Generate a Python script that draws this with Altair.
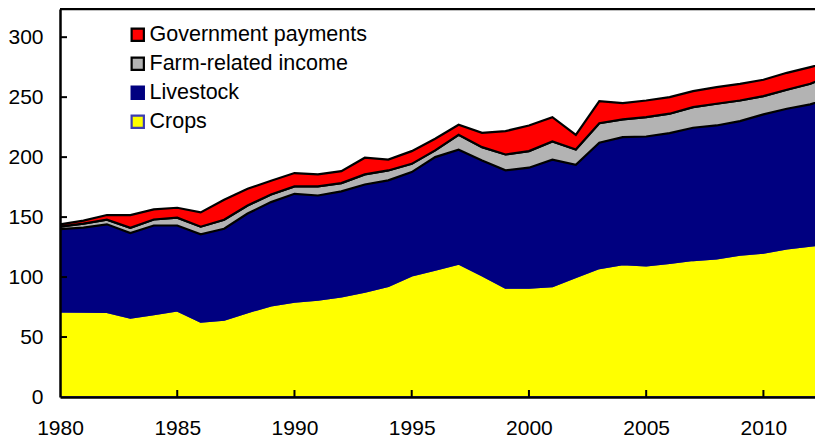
import altair as alt
import pandas as pd

years = list(range(1980, 2014))
crops = [71.4, 71.2, 71.0, 66.1, 69.0, 72.2, 62.8, 64.5, 70.8, 76.4,
         79.5, 81.2, 83.9, 87.8, 92.5, 101.4, 106.2, 111.2, 101.4, 91.2,
         91.2, 92.5, 100.0, 107.5, 110.8, 109.7, 111.7, 114.2, 115.6, 118.6,
         120.3, 123.9, 126.2, 128.0]
livestock = [68.6, 70.0, 73.0, 70.6, 74.0, 70.8, 72.8, 75.8, 82.2, 86.1,
             89.9, 86.8, 87.5, 89.4, 88.1, 86.1, 93.8, 95.0, 95.8, 97.8,
             100.0, 105.3, 93.6, 104.5, 105.9, 107.5, 108.3, 110.3, 110.8, 111.4,
             115.3, 116.4, 117.8, 122.0]
farm_related = [2.0, 3.3, 3.8, 4.3, 5.0, 6.5, 6.4, 7.5, 6.7, 6.4,
                6.2, 7.6, 6.9, 8.4, 8.3, 6.9, 5.6, 12.4, 11.1, 13.2,
                13.8, 15.2, 12.8, 16.3, 14.7, 16.1, 16.2, 17.2, 18.1, 17.2,
                15.3, 15.9, 17.2, 19.0]
government = [2.0, 2.5, 3.9, 10.7, 8.4, 8.3, 11.9, 16.7, 13.9, 11.4,
              11.1, 10.0, 10.0, 13.9, 9.1, 10.6, 9.7, 8.4, 12.0, 19.5,
              21.4, 20.3, 12.2, 18.4, 13.6, 13.9, 13.8, 13.3, 13.8, 13.9,
              13.6, 14.1, 13.8, 11.0]

series_names = ["Government payments", "Farm-related income", "Livestock", "Crops"]
fill_colors = ["#ff0000", "#b3b3b3", "#000080", "#ffff00"]
stroke_colors = ["#000000", "#000000", "#000080", "#3c3cb4"]
stroke_widths = [2.2, 2.2, 0, 1]
stack_rank = {"Crops": 1, "Livestock": 2, "Farm-related income": 3, "Government payments": 4}

y_ticks = [50, 100, 150, 200, 250, 300]
y_labels = [0, 50, 100, 150, 200, 250, 300]
x_ticks = [1985, 1990, 1995, 2000, 2005, 2010]
x_labels = [1980, 1985, 1990, 1995, 2000, 2005, 2010]

rows = []
for i, yr in enumerate(years):
    for name, vals in (("Crops", crops), ("Livestock", livestock),
                       ("Farm-related income", farm_related),
                       ("Government payments", government)):
        rows.append({"year": yr, "series": name, "value": vals[i], "rank": stack_rank[name]})
df = pd.DataFrame(rows)

FONT = "Liberation Sans"
W, H = 755, 388

xs = alt.Scale(domain=[1980, 2012.2], nice=False, zero=False)
ys = alt.Scale(domain=[0, 323.5], nice=False)

x_axis = alt.Axis(values=x_labels, format="d", title=None, ticks=False,
                  grid=False, labelFlush=False, labelPadding=20,
                  labelOverlap=False, zindex=1)
y_axis = alt.Axis(values=y_labels, title=None, ticks=False, grid=False,
                  labelPadding=17, labelOverlap=False, zindex=1)

legend = alt.Legend(
    title=None, orient="none", legendX=67, legendY=15, padding=0,
    symbolType="square", symbolSize=150, symbolStrokeWidth=2,
    labelFont=FONT, labelFontSize=21.5, labelColor="black", labelOffset=1,
    labelLimit=0, rowPadding=6,
)

area = alt.Chart(df).mark_area(clip=True, opacity=1).encode(
    x=alt.X("year:Q", scale=xs, axis=x_axis),
    y=alt.Y("value:Q", stack="zero", scale=ys, axis=y_axis),
    fill=alt.Fill("series:N", scale=alt.Scale(domain=series_names, range=fill_colors), legend=legend),
    stroke=alt.Stroke("series:N", scale=alt.Scale(domain=series_names, range=stroke_colors), legend=legend),
    strokeWidth=alt.StrokeWidth("series:N", scale=alt.Scale(domain=series_names, range=stroke_widths), legend=None),
    order=alt.Order("rank:Q"),
)

ytick = alt.Chart(pd.DataFrame({"v": y_ticks})).mark_rule(color="black", strokeWidth=2).encode(
    y=alt.Y("v:Q", scale=ys, axis=y_axis), x=alt.value(0), x2=alt.value(7))
xtick = alt.Chart(pd.DataFrame({"yr": x_ticks})).mark_rule(color="black", strokeWidth=2).encode(
    x=alt.X("yr:Q", scale=xs, axis=x_axis), y=alt.value(H), y2=alt.value(H - 7))
top = alt.Chart(pd.DataFrame({"a": [0]})).mark_rule(color="black", strokeWidth=2.5).encode(
    y=alt.value(0), x=alt.value(0), x2=alt.value(W))

chart = alt.layer(area, ytick, xtick, top).properties(
    width=W, height=H,
    autosize=alt.AutoSizeParams(type="none"),
    padding={"left": 52, "top": 1, "right": 0, "bottom": 44},
).configure_view(stroke=None).configure_axis(
    labelFont=FONT, labelFontSize=21, labelColor="black",
    domainColor="black", domainWidth=2.5,
)

chart.save("out.html", embed_options={"renderer": "svg", "actions": False})
